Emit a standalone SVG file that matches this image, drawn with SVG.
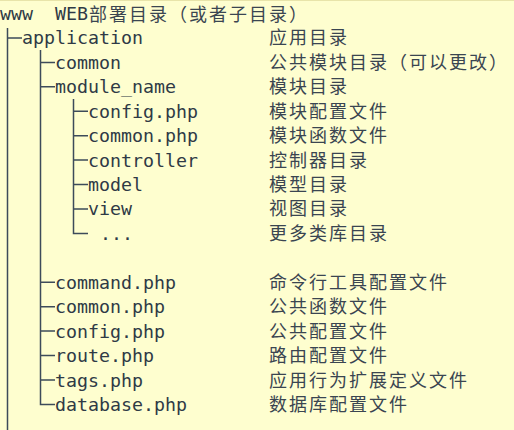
<svg xmlns="http://www.w3.org/2000/svg" width="514" height="430" viewBox="0 0 514 430">
<style>
.m{font-family:"DejaVu Sans Mono","Liberation Mono",monospace;font-size:18.3px;fill:#2f3a46}
.c{font-family:"Noto Sans CJK SC","Noto Sans CJK TC",sans-serif;font-size:18px;letter-spacing:2px;fill:#3a4551}
.ln{fill:none;stroke:#3d4b5a;stroke-width:1.5}
</style>
<rect x="0" y="0" width="514" height="430" fill="#FEFECF"/>
<line x1="0" y1="0.5" x2="514" y2="0.5" stroke="#E8E4AA" stroke-width="1"/>
<g id="connectors">
<path class="ln" d="M7.5 28V430M7.5 38H22"/>
<path class="ln" d="M40.5 50V404.4H55M40.5 62.4H55M40.5 86.8H55M40.5 282.2H55M40.5 306.7H55M40.5 331.1H55M40.5 355.5H55M40.5 380H55"/>
<path class="ln" d="M73.5 99V233.4H88M73.5 111.2H88M73.5 135.7H88M73.5 160.1H88M73.5 184.5H88M73.5 208.9H88"/>
</g>
<g id="root"><text class="m" x="0" y="20">www</text><text class="m" x="55" y="20">WEB</text><text class="c" x="89" y="20.5">部署目录（或者子目录）</text></g>
<g id="application"><text class="m" x="22" y="44.4">application</text><text class="c" x="269" y="44.4">应用目录</text></g>
<g id="common"><text class="m" x="55" y="68.9">common</text><text class="c" x="269" y="68.9">公共模块目录（可以更改）</text></g>
<g id="module_name"><text class="m" x="55" y="93.3">module_name</text><text class="c" x="269" y="93.3">模块目录</text></g>
<g id="m_config"><text class="m" x="88" y="117.7">config.php</text><text class="c" x="269" y="117.7">模块配置文件</text></g>
<g id="m_common"><text class="m" x="88" y="142.2">common.php</text><text class="c" x="269" y="142.2">模块函数文件</text></g>
<g id="controller"><text class="m" x="88" y="166.6">controller</text><text class="c" x="269" y="166.6">控制器目录</text></g>
<g id="model"><text class="m" x="88" y="191">model</text><text class="c" x="269" y="191">模型目录</text></g>
<g id="view"><text class="m" x="88" y="215.4">view</text><text class="c" x="269" y="215.4">视图目录</text></g>
<g id="more"><text class="m" x="100" y="239.9">...</text><text class="c" x="269" y="239.9">更多类库目录</text></g>
<g id="command"><text class="m" x="55" y="288.7">command.php</text><text class="c" x="269" y="288.7">命令行工具配置文件</text></g>
<g id="a_common"><text class="m" x="55" y="313.2">common.php</text><text class="c" x="269" y="313.2">公共函数文件</text></g>
<g id="a_config"><text class="m" x="55" y="337.6">config.php</text><text class="c" x="269" y="337.6">公共配置文件</text></g>
<g id="route"><text class="m" x="55" y="362">route.php</text><text class="c" x="269" y="362">路由配置文件</text></g>
<g id="tags"><text class="m" x="55" y="386.5">tags.php</text><text class="c" x="269" y="386.5">应用行为扩展定义文件</text></g>
<g id="database"><text class="m" x="55" y="410.9">database.php</text><text class="c" x="269" y="410.9">数据库配置文件</text></g>
</svg>
